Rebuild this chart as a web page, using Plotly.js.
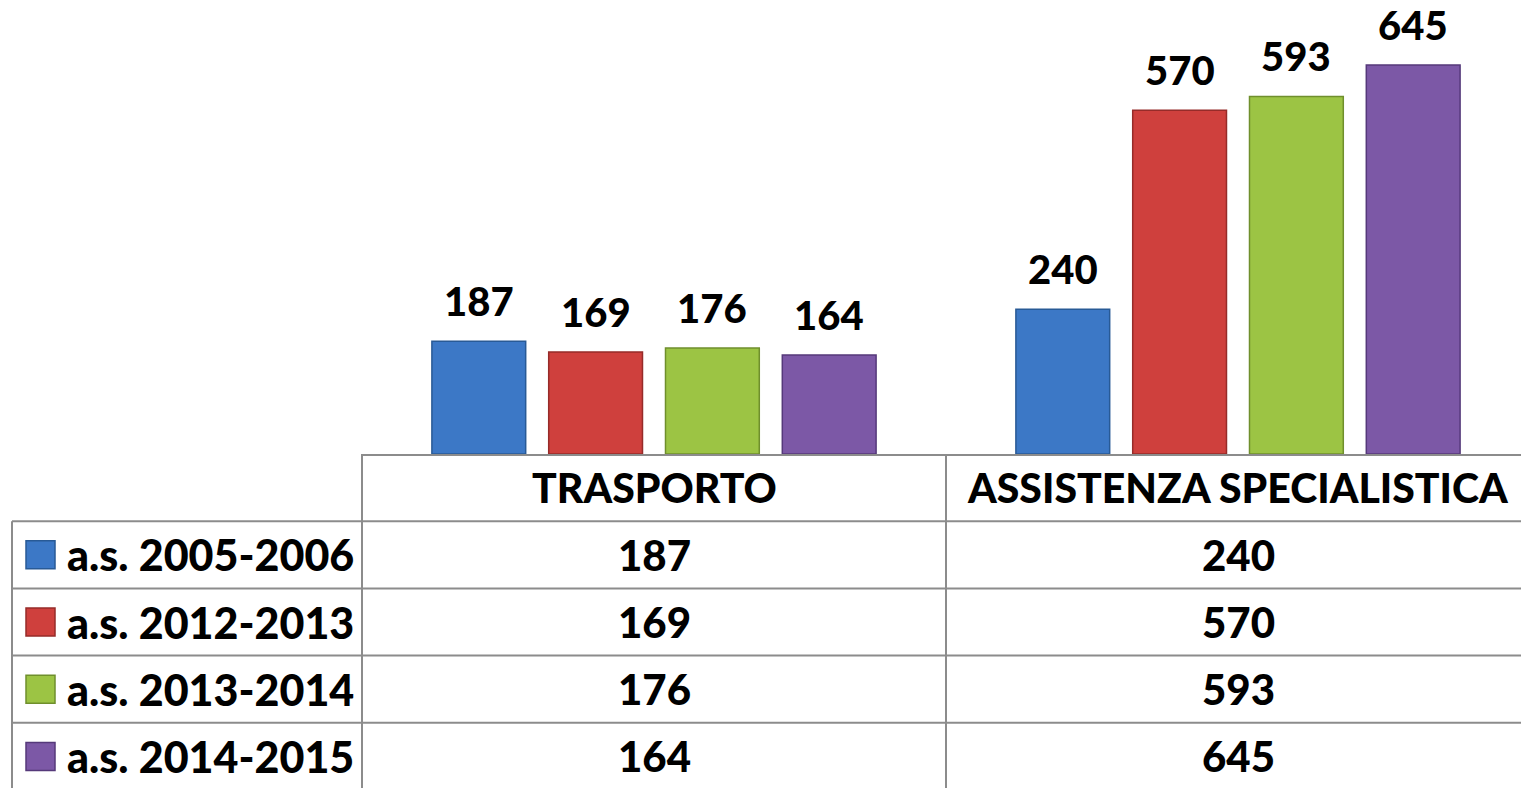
<!DOCTYPE html>
<html>
<head>
<meta charset="utf-8">
<script src="https://cdn.plot.ly/plotly-3.0.1.min.js"></script>
<style>html,body{margin:0;padding:0;background:#fff;overflow:hidden}#chart{width:1521px;height:788px}</style>
</head>
<body>
<div id="chart"></div>
<script>
const categories = ["TRASPORTO", "ASSISTENZA SPECIALISTICA"];
const seriesNames = ["a.s. 2005-2006", "a.s. 2012-2013", "a.s. 2013-2014", "a.s. 2014-2015"];
const values2005 = [187, 240];
const values2012 = [169, 570];
const values2013 = [176, 593];
const values2014 = [164, 645];
const seriesValues = [values2005, values2012, values2013, values2014];
const colors = ["#3c78c6", "#cf403d", "#9cc444", "#7c58a6"];
const edgeColors = ["#285a96", "#962b29", "#6f8f2c", "#55397a"];

const W = 1521, H = 788;
const plotLeft = 362, plotBottom = 454, plotTop = 0;
const plotW = W - plotLeft, plotH = plotBottom - plotTop;
const rowH = 67.2;
const FONT = "Lato, 'Open Sans', sans-serif";
const WEIGHT = 900;
const px2py = p => (plotBottom - p) / plotH;
const px2px = p => (p - plotLeft) / plotW;
const gray = "#8c8c8c";
const bargap = 0.2, bargroupgap = 0.197;
const nS = seriesNames.length;
const slot = (1 - bargap) / nS;

const traces = seriesNames.map((n, i) => ({
  type: "bar",
  name: n,
  x: categories,
  y: seriesValues[i],
  cliponaxis: false,
  marker: {color: colors[i], line: {color: edgeColors[i], width: 1.5}},
  hoverinfo: "x+y+name"
}));

const shapes = [];
const annotations = [];
// data labels above bars
seriesNames.forEach((n, i) => {
  categories.forEach((c, j) => {
    annotations.push({xref: "x", yref: "y", x: j + (i - (nS - 1) / 2) * slot, y: seriesValues[i][j], text: String(seriesValues[i][j]), showarrow: false, xanchor: "center", yanchor: "bottom", yshift: 14, font: {family: FONT, size: 40, color: "#000", weight: WEIGHT}});
  });
});
// horizontal table lines
const headerBottom = plotBottom + rowH;
for (let r = 0; r < nS; r++) {
  const py = headerBottom + r * rowH;
  shapes.push({type: "line", xref: "paper", yref: "paper", x0: px2px(12), x1: 1, y0: px2py(py), y1: px2py(py), line: {color: gray, width: 2}});
}
// vertical lines
shapes.push({type: "line", xref: "paper", yref: "paper", x0: px2px(12), x1: px2px(12), y0: px2py(headerBottom), y1: px2py(H + 5), line: {color: gray, width: 2}});
shapes.push({type: "line", xref: "paper", yref: "paper", x0: 0, x1: 0, y0: 0, y1: px2py(H + 5), line: {color: gray, width: 2}});
shapes.push({type: "line", xref: "x", yref: "paper", x0: 0.5, x1: 0.5, y0: 0, y1: px2py(H + 5), line: {color: gray, width: 2}});

// header labels
categories.forEach((c, j) => {
  annotations.push({xref: "x", yref: "paper", x: j, y: px2py(plotBottom + rowH / 2), text: c, showarrow: false, xanchor: "center", yanchor: "middle", font: {family: FONT, size: 41, color: "#000", weight: WEIGHT}});
});
// rows
seriesNames.forEach((n, i) => {
  const cy = headerBottom + (i + 0.5) * rowH;
  shapes.push({type: "rect", xref: "paper", yref: "paper", x0: px2px(26), x1: px2px(55), y0: px2py(cy - 14), y1: px2py(cy + 14), fillcolor: colors[i], line: {color: edgeColors[i], width: 1.5}});
  annotations.push({xref: "paper", yref: "paper", x: px2px(65), y: px2py(cy), text: n, showarrow: false, xanchor: "left", yanchor: "middle", font: {family: FONT, size: 43, color: "#000", weight: WEIGHT}});
  categories.forEach((c, j) => {
    annotations.push({xref: "x", yref: "paper", x: j, y: px2py(cy), text: String(seriesValues[i][j]), showarrow: false, xanchor: "center", yanchor: "middle", font: {family: FONT, size: 42, color: "#000", weight: WEIGHT}});
  });
});

const layout = {
  width: W, height: H,
  margin: {l: plotLeft, r: 0, t: plotTop, b: H - plotBottom, pad: 0},
  paper_bgcolor: "#fff", plot_bgcolor: "#fff",
  barmode: "group", bargap: bargap, bargroupgap: bargroupgap,
  showlegend: false,
  font: {family: FONT},
  xaxis: {type: "category", range: [-0.5, 1.4846], showline: true, linecolor: gray, linewidth: 2, showticklabels: false, ticks: "", showgrid: false, zeroline: false, fixedrange: true},
  yaxis: {range: [0, 753], visible: false, showgrid: false, zeroline: false, fixedrange: true},
  shapes: shapes,
  annotations: annotations
};

Plotly.newPlot("chart", traces, layout, {displayModeBar: false, staticPlot: true});
</script>
</body>
</html>
